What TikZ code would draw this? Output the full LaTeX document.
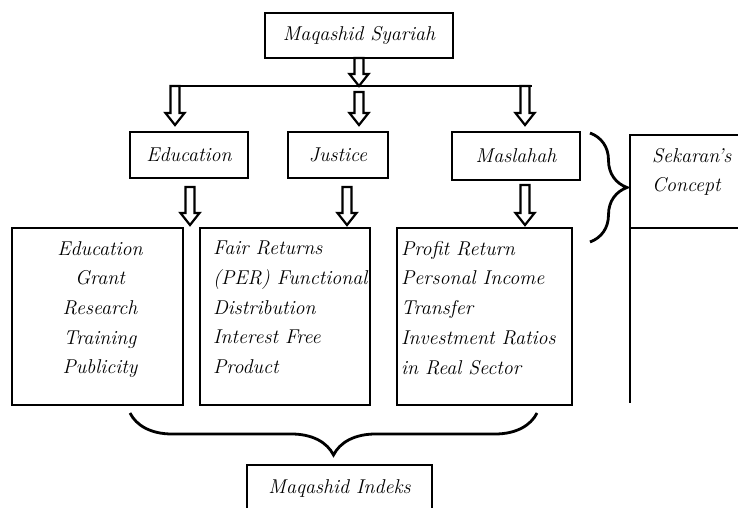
\documentclass[tikz,border=0pt]{standalone}
\usepackage{tikz}
\usetikzlibrary{calc,decorations.pathreplacing}

\begin{document}
\begin{tikzpicture}[x=1pt,y=-1pt,
	every node/.style={font=\fontsize{20}{29.7}\selectfont\itshape},
	box/.style={draw,line width=2.8pt,inner sep=0pt,outer sep=0pt},
	listtext/.style={inner sep=0pt,anchor=north},
	hollow/.style={line width=2.2pt,to path={let \p1=(\tikztostart), \p2=(\tikztotarget) in
		(\x1-4.5pt,\y1) -- (\x1-4.5pt,\y2+12pt) -- (\x1-9.5pt,\y2+12pt) -- (\x1,\y2)
		-- (\x1+9.5pt,\y2+12pt) -- (\x1+4.5pt,\y2+12pt) -- (\x1+4.5pt,\y1) -- cycle}},
	curly/.style={line width=2.8pt,decorate,decoration={brace,amplitude=#1}}]
\path[use as bounding box,clip] (0,0) rectangle (738,508);

\path (359,35.5) node[box,minimum width=188pt,minimum height=45pt] (syariah) {Maqashid Syariah}
		(189,155) node[box,minimum width=118pt,minimum height=46pt] (edu) {Education}
		(338,155) node[box,minimum width=100pt,minimum height=46pt] (justice) {Justice}
		(516,156) node[box,minimum width=128pt,minimum height=48pt] (masla) {Maslahah}
		(97.5,316.5) node[box,minimum width=171pt,minimum height=177pt] (edulist) {}
		(285,316.5) node[box,minimum width=170pt,minimum height=177pt] (juslist) {}
		(484.5,316.5) node[box,minimum width=175pt,minimum height=177pt] (maslist) {}
		(339.5,488.5) node[box,minimum width=185pt,minimum height=47pt] (indeks) {Maqashid Indeks}
		(695,181.5) node[box,minimum width=130pt,minimum height=93pt] (sekaran) {}
		(100,241) node[listtext,align=center] (edutxt) {Education\\Grant\\Research\\Training\\Publicity}
		(213,241) node[listtext,anchor=north west,align=left] (justxt) {Fair Returns\\(PER) Functional\\Distribution\\Interest Free\\Product}
		(401,241) node[listtext,anchor=north west,align=left] (maslatxt) {Profit Return\\Personal Income\\Transfer\\Investment Ratios\\in Real Sector}
		(652,148) node[listtext,anchor=north west,align=left] (sekatxt) {Sekaran's\\Concept}
;
\coordinate (barL) at (170,86);
\coordinate (barmid) at (359,86);
\coordinate (barR) at (532,86);
\coordinate (sekend) at (630,403);

\draw[line width=2.8pt] (barL) -- (barR);
\draw[hollow] (syariah.south) to (barmid);
\draw[hollow] ([xshift=5pt]barL) to ([yshift=7pt]edu.north);
\draw[hollow] ([yshift=-6pt]barmid) to ([yshift=7pt]justice.north);
\draw[hollow] ([xshift=-7pt]barR) to ([yshift=7pt]masla.north);

\draw[hollow] ([xshift=1pt,yshift=-9pt]edu.south) to ([yshift=3pt]edulist.north);
\draw[hollow] ([xshift=9pt,yshift=-9pt]justice.south) to ([yshift=3pt]juslist.north);
\draw[hollow] ([xshift=9pt,yshift=-5pt]masla.south) to ([yshift=3pt]maslist.north);

\draw[line width=2.8pt] (sekaran.south west) -- (sekend);
\draw[curly=37pt] (590,133) -- (590,242);
\draw[curly=42pt] (537,413) -- (130,413);

\end{tikzpicture}
\end{document}
